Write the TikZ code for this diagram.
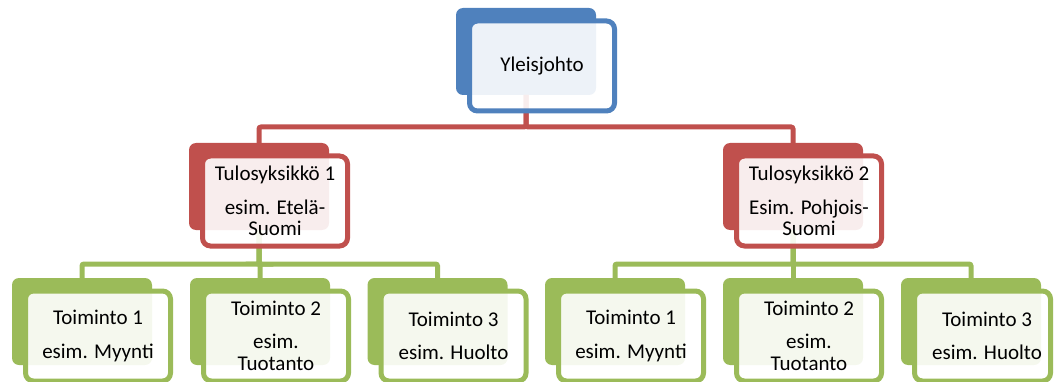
\documentclass[tikz,border=0pt]{standalone}
\usepackage{fontspec}
\setmainfont{Carlito}
\usetikzlibrary{calc}

\definecolor{topblue}{HTML}{4F81BD}
\definecolor{unitred}{HTML}{C0504D}
\definecolor{taskgreen}{HTML}{9BBB59}

\tikzset{
  backbox/.style={rectangle, rounded corners=7pt, minimum width=140pt,
    minimum height=87pt, inner sep=0pt, outer sep=0pt, anchor=north west},
  frontbox/.style={rectangle, rounded corners=8pt, minimum width=145pt,
    minimum height=90pt, inner sep=0pt, outer sep=0pt, anchor=north west,
    line width=5pt, fill=white, fill opacity=0.9},
  boxtext/.style={align=center, inner sep=0pt, text=black,
    font=\fontsize{21}{21.7}\selectfont},
  connector/.style={line width=5pt, rounded corners=2pt},
}

% back plate of an organisation unit: name, colour, left, top
\newcommand{\unitback}[4]{%
  \node[backbox, fill=#2] (#1) at (#3,#4) {};}
% front card with its text: name, colour, text, card width, text shift
\newcommand{\unitfront}[5]{%
  \node[frontbox, draw=#2, minimum width=#4] (#1f) at ($(#1.north west)+(13.5,13)$) {};
  \node[boxtext, xshift=#5] (#1t) at (#1f.center) {#3};}

\begin{document}
\begin{tikzpicture}[x=1pt, y=-1pt]
\useasboundingbox (0,0) rectangle (1056,382);
\clip (0,0) rectangle (1056,382);

% back plates
\unitback{top}{topblue}{456}{8}
\unitback{tu1}{unitred}{189}{143}
\unitback{tu2}{unitred}{723}{143}
\unitback{a1}{taskgreen}{12}{278}
\unitback{a2}{taskgreen}{190}{278}
\unitback{a3}{taskgreen}{367.5}{278}
\unitback{b1}{taskgreen}{545}{278}
\unitback{b2}{taskgreen}{723}{278}
\unitback{b3}{taskgreen}{901}{278}

% connectors
\draw[connector, unitred] (top.south) -- ++(0,32) -| (tu1.north);
\draw[connector, unitred] (top.south) -- ++(0,32) -| (tu2.north);
\draw[connector, taskgreen] (tu1.south) -- ++(0,34) -| (a1.north);
\draw[connector, taskgreen] (tu1.south) -- ++(0,34) -| (a2.north);
\draw[connector, taskgreen] (tu1.south) -- ++(0,34) -| (a3.north);
\draw[connector, taskgreen] (tu2.south) -- ++(0,34) -| (b1.north);
\draw[connector, taskgreen] (tu2.south) -- ++(0,34) -| (b2.north);
\draw[connector, taskgreen] (tu2.south) -- ++(0,34) -| (b3.north);

% front cards
\unitfront{top}{topblue}{Yleisjohto}{145pt}{0pt}
\unitfront{tu1}{unitred}{Tulosyksikkö 1\\[12pt]esim. Etelä-\\Suomi}{145pt}{0pt}
\unitfront{tu2}{unitred}{Tulosyksikkö 2\\[12pt]Esim. Pohjois-\\Suomi}{145pt}{0pt}
\unitfront{a1}{taskgreen}{Toiminto 1\\[11.5pt]esim. Myynti}{145pt}{0pt}
\unitfront{a2}{taskgreen}{Toiminto 2\\[11.5pt]esim.\\Tuotanto}{145pt}{0pt}
\unitfront{a3}{taskgreen}{Toiminto 3\\[11.5pt]esim. Huolto}{145pt}{0pt}
\unitfront{b1}{taskgreen}{Toiminto 1\\[11.5pt]esim. Myynti}{145pt}{0pt}
\unitfront{b2}{taskgreen}{Toiminto 2\\[11.5pt]esim.\\Tuotanto}{145pt}{0pt}
\unitfront{b3}{taskgreen}{Toiminto 3\\[11.5pt]esim. Huolto}{136pt}{4.5pt}
\end{tikzpicture}
\end{document}
